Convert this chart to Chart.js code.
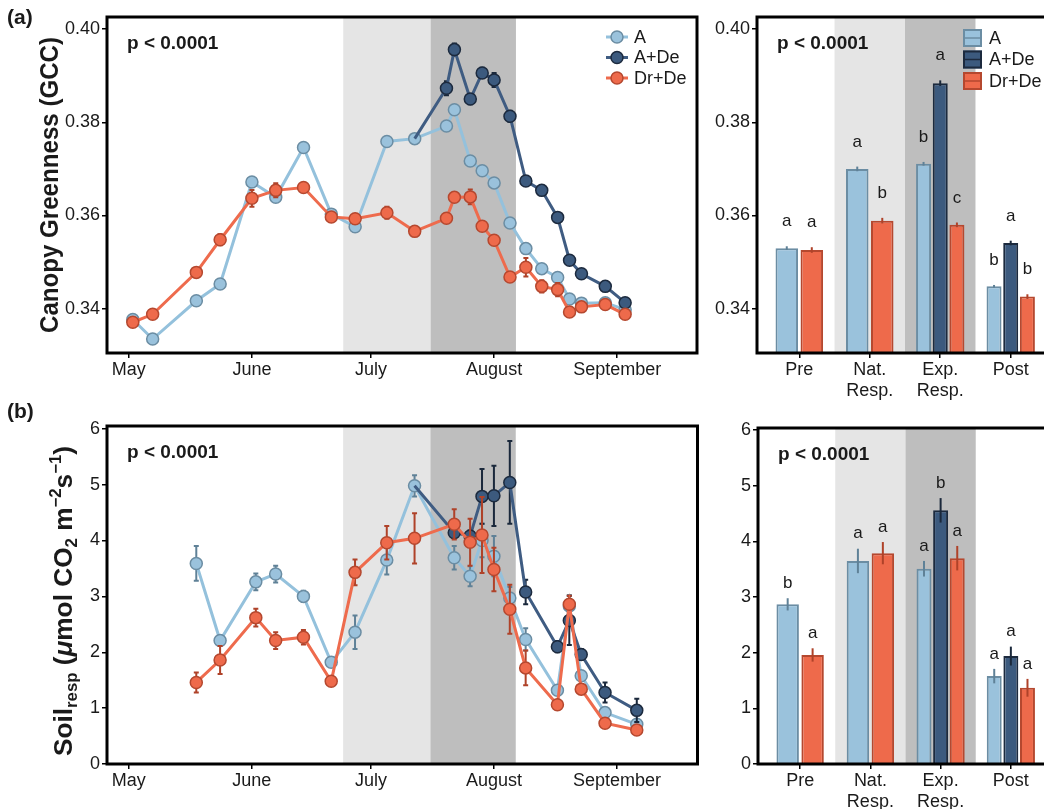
<!DOCTYPE html>
<html>
<head>
<meta charset="utf-8">
<script src="https://cdn.jsdelivr.net/npm/chart.js@4.4.1/dist/chart.umd.min.js"></script>
<style>
  html, body { margin: 0; padding: 0; overflow: hidden; background: #fff; }
  body { width: 1044px; height: 809px; position: relative; }
  canvas { position: absolute; }
</style>
</head>
<body>
<canvas id="gccLine" width="705" height="400" style="left:0;top:0"></canvas>
<canvas id="gccBar" width="349" height="400" style="left:705px;top:0"></canvas>
<canvas id="respLine" width="705" height="409" style="left:0;top:400px"></canvas>
<canvas id="respBar" width="349" height="409" style="left:705px;top:400px"></canvas>
<script>
/* global Chart */

// ---- data ----
// sampling days, counted from 1 May
const gccDays = [1, 6, 17, 23, 31, 37, 44, 51, 57, 65, 72, 80, 82, 86, 89, 92, 96, 100, 104, 108, 111, 114, 120, 125];
const gccA = [0.3377, 0.3335, 0.3417, 0.3453, 0.3672, 0.3639, 0.3746, 0.3603, 0.3576, 0.3759, 0.3765, 0.3792,
  0.3827, 0.3717, 0.3696, 0.3670, 0.3584, 0.3529, 0.3486, 0.3467, 0.3421, 0.3412, 0.3413, 0.3398];
const gccAErr = [0.0003, 0.0003, 0.0003, 0.0003, 0.0008, 0.0006, 0.0006, 0.0004, 0.0007, 0.0006, 0.0004, 0.0005,
  0.0008, 0.0007, 0.0005, 0.0008, 0.0007, 0.0004, 0.0003, 0.0004, 0.0003, 0.0003, 0.0003, 0.0003];
const gccADe = [null, null, null, null, null, null, null, null, null, null, 0.3765, 0.3873,
  0.3956, 0.3850, 0.3906, 0.3891, 0.3813, 0.3674, 0.3654, 0.3596, 0.3504, 0.3475, 0.3448, 0.3413];
const gccADeErr = [null, null, null, null, null, null, null, null, null, null, 0, 0.0015,
  0.0013, 0.0011, 0.0011, 0.0015, 0.0012, 0.0009, 0.0006, 0.0005, 0.0006, 0.0005, 0.0005, 0.0005];
const gccDrDe = [0.3371, 0.3388, 0.3478, 0.3548, 0.3637, 0.3654, 0.3660, 0.3597, 0.3593, 0.3606, 0.3566, 0.3594,
  0.3639, 0.3640, 0.3577, 0.3547, 0.3468, 0.3489, 0.3448, 0.3441, 0.3393, 0.3404, 0.3409, 0.3388];
const gccDrDeErr = [0.0003, 0.0004, 0.0009, 0.0012, 0.0018, 0.0015, 0.0007, 0.0009, 0.0010, 0.0013, 0.0009, 0.0007,
  0.0008, 0.0016, 0.0007, 0.0009, 0.0007, 0.0020, 0.0013, 0.0014, 0.0009, 0.0010, 0.0006, 0.0007];

const respDays = [17, 23, 32, 37, 44, 51, 57, 65, 72, 82, 86, 89, 92, 96, 100, 108, 111, 114, 120, 128];
const respA = [3.59, 2.21, 3.26, 3.40, 3.00, 1.82, 2.36, 3.65, 4.98, 3.69, 3.36, 4.00, 3.72, 2.97, 2.23, 1.32, 2.83, 1.58, 0.92, 0.71];
const respAErr = [0.31, 0.05, 0.15, 0.15, 0.10, 0.05, 0.30, 0.26, 0.19, 0.21, 0.18, 0.30, 0.36, 0.20, 0.20, 0.08, 0.19, 0.08, 0.08, 0.06];
const respADe = [null, null, null, null, null, null, null, null, 4.98, 4.14, 4.08, 4.79, 4.80, 5.04, 3.08, 2.10, 2.57, 1.96, 1.28, 0.96];
const respADeErr = [null, null, null, null, null, null, null, null, 0, 0.10, 0.10, 0.49, 0.54, 0.74, 0.22, 0.10, 0.44, 0.10, 0.18, 0.21];
const respDrDe = [1.46, 1.86, 2.62, 2.21, 2.27, 1.48, 3.43, 3.96, 4.04, 4.29, 3.97, 4.10, 3.48, 2.77, 1.72, 1.06, 2.86, 1.34, 0.73, 0.61];
const respDrDeErr = [0.18, 0.25, 0.16, 0.15, 0.13, 0.05, 0.23, 0.30, 0.45, 0.27, 0.42, 0.68, 0.39, 0.44, 0.31, 0.05, 0.15, 0.08, 0.05, 0.05];

// phase means (Pre, Nat. Resp., Exp. Resp., Post)
const gccBarA = [0.3530, 0.3700, 0.3711, 0.3448];
const gccBarAErr = [0.0004, 0.0005, 0.0004, 0.0003];
const gccBarADe = [null, null, 0.3884, 0.3541];
const gccBarADeErr = [null, null, 0.0006, 0.0005];
const gccBarDrDe = [0.3526, 0.3589, 0.3580, 0.3426];
const gccBarDrDeErr = [0.0006, 0.0006, 0.0005, 0.0005];
const gccLettersA = ['a', 'a', 'b', 'b'];
const gccLettersADe = [null, null, 'a', 'a'];
const gccLettersDrDe = ['a', 'b', 'c', 'b'];

const respBarA = [2.87, 3.65, 3.51, 1.58];
const respBarAErr = [0.11, 0.22, 0.14, 0.13];
const respBarADe = [null, null, 4.56, 1.94];
const respBarADeErr = [null, null, 0.22, 0.17];
const respBarDrDe = [1.96, 3.79, 3.70, 1.37];
const respBarDrDeErr = [0.12, 0.20, 0.22, 0.16];
const respLettersA = ['b', 'a', 'a', 'a'];
const respLettersADe = [null, null, 'b', 'a'];
const respLettersDrDe = ['a', 'a', 'a', 'a'];

const seriesNames = ['A', 'A+De', 'Dr+De'];
const monthDays = [0, 31, 61, 92, 123];
const monthLabels = ['May', 'June', 'July', 'August', 'September'];
const shadeDays = [54, 76, 97.5];          // natural response start, deluge start, deluge end
const phaseLabels = [['Pre'], ['Nat.', 'Resp.'], ['Exp.', 'Resp.'], ['Post']];
const phaseShade = [1.5, 2.5, 3.5];
const gccTicks = [0.34, 0.36, 0.38, 0.40];
const respTicks = [0, 1, 2, 3, 4, 5, 6];
const pLabel = 'p < 0.0001';

// ---- styles ----
const FONT = "'Liberation Sans', Arial, Helvetica, sans-serif";
const INK = '#1a1a1a';
const tickFont = {family: FONT, size: 18};
const colors = [
  {fill: '#9AC2DC', edge: '#6B8DA3', line: '#94C1DC', err: '#5F8197'},
  {fill: '#3C5A7E', edge: '#1C2A3E', line: '#3F5C82', err: '#1A283B'},
  {fill: '#EE6A4B', edge: '#B5482F', line: '#EE6B4D', err: '#AF4229'}
];

function lineSet(k, days, vals, errs) {
  const s = colors[k];
  const first = vals.findIndex(v => v !== null);
  return {
    label: seriesNames[k],
    order: 3 - k,
    data: days.map((d, i) => ({x: d, y: vals[i]})),
    errors: errs,
    errColor: s.err,
    borderColor: s.line,
    borderWidth: 3,
    pointBackgroundColor: s.fill,
    pointBorderColor: s.edge,
    pointBorderWidth: 1.5,
    // the A+De line leaves from the shared A point, whose marker stays light blue
    pointRadius: c => (k === 1 && c.dataIndex === first) ? 0 : 6,
    tension: 0
  };
}

function barSet(k, vals, errs, letters) {
  const s = colors[k];
  return {
    label: seriesNames[k],
    data: vals.map((v, i) => ({x: i + 1, y: v})),
    errors: errs,
    letters: letters,
    errColor: s.err,
    backgroundColor: s.fill,
    borderColor: s.edge,
    borderWidth: 2,
    skipNull: true,
    categoryPercentage: 0.71,
    barPercentage: 0.9
  };
}

function axes(o) {
  return {
    x: {
      type: 'linear', min: o.xMin, max: o.xMax, offset: false,
      afterBuildTicks: s => { s.ticks = o.xTicks.map(v => ({value: v})); },
      afterFit: s => { s.height = o.xHeight; },
      grid: {offset: false, drawOnChartArea: false, tickLength: 5, color: '#000', lineWidth: 1.5},
      border: {display: false},
      ticks: {font: tickFont, color: INK, padding: 1, autoSkip: false, maxRotation: 0, callback: o.xFmt}
    },
    y: {
      type: 'linear', min: o.yMin, max: o.yMax, beginAtZero: false,
      afterBuildTicks: s => { s.ticks = o.yTicks.map(v => ({value: v})); },
      afterFit: s => { s.width = o.yWidth; },
      grid: {drawOnChartArea: false, tickLength: 5, color: '#000', lineWidth: 1.5},
      border: {display: false},
      ticks: {font: tickFont, color: INK, padding: 2, callback: o.yFmt}
    }
  };
}

// rotated axis title built from runs of text (for sub/superscripts)
function drawTitle(ctx, runs, bx, cy, len) {
  ctx.save();
  ctx.translate(bx, cy);
  ctx.rotate(-Math.PI / 2);
  let w = 0;
  runs.forEach(r => { ctx.font = r.f + ' ' + FONT; r.w = ctx.measureText(r.t).width; w += r.w; });
  ctx.scale(len / w, 1);
  ctx.fillStyle = INK;
  ctx.textBaseline = 'alphabetic';
  let x = -w / 2;
  runs.forEach(r => { ctx.font = r.f + ' ' + FONT; ctx.fillText(r.t, x, r.dy || 0); x += r.w; });
  ctx.restore();
}

const gccTitle = [{t: 'Canopy Greenness (GCC)', f: 'bold 25px'}];
const respTitle = [
  {t: 'Soil', f: 'bold 25px'}, {t: 'resp', f: 'bold 16px', dy: 5}, {t: ' (', f: 'bold 25px'},
  {t: 'μ', f: 'italic bold 25px'}, {t: 'mol CO', f: 'bold 25px'}, {t: '2', f: 'bold 16px', dy: 5},
  {t: ' m', f: 'bold 25px'}, {t: '−2', f: 'bold 16px', dy: -11}, {t: 's', f: 'bold 25px'},
  {t: '−1', f: 'bold 16px', dy: -11}, {t: ')', f: 'bold 25px'}
];

function errorBars(chart, args, cfg) {
  const ds = chart.data.datasets[args.index];
  if (!ds.errors) return;
  const y = chart.scales.y, ctx = chart.ctx;
  ctx.save();
  ctx.strokeStyle = ds.errColor;
  ctx.lineWidth = cfg.errWidth;
  args.meta.data.forEach((el, i) => {
    const v = ds.data[i].y, e = ds.errors[i];
    if (v === null || !e) return;
    const t = y.getPixelForValue(v + e), b = y.getPixelForValue(v - e);
    ctx.beginPath();
    ctx.moveTo(el.x, t); ctx.lineTo(el.x, b);
    if (cfg.cap) {
      ctx.moveTo(el.x - cfg.cap, t); ctx.lineTo(el.x + cfg.cap, t);
      ctx.moveTo(el.x - cfg.cap, b); ctx.lineTo(el.x + cfg.cap, b);
    }
    ctx.stroke();
  });
  ctx.restore();
}

function makeDecor(cfg) {
  return {
    id: 'decor',
    beforeDatasetsDraw(chart) {
      // phase shading
      const {ctx, chartArea: a} = chart, x = chart.scales.x;
      const p = cfg.bands.map(v => x.getPixelForValue(v));
      ctx.save();
      ctx.fillStyle = '#E5E5E5';
      ctx.fillRect(p[0], a.top, p[1] - p[0], a.height);
      ctx.fillStyle = '#BEBEBE';
      ctx.fillRect(p[1], a.top, p[2] - p[1], a.height);
      ctx.restore();
    },
    beforeDatasetDraw(chart, args) { if (!cfg.errAfter) errorBars(chart, args, cfg); },
    afterDatasetDraw(chart, args) { if (cfg.errAfter) errorBars(chart, args, cfg); },
    afterDatasetsDraw(chart) {
      const {ctx, chartArea: a} = chart, y = chart.scales.y;
      ctx.save();

      // significance letters
      ctx.fillStyle = INK;
      ctx.font = '17px ' + FONT;
      ctx.textAlign = 'center';
      ctx.textBaseline = 'middle';
      chart.data.datasets.forEach((ds, k) => {
        if (!ds.letters) return;
        chart.getDatasetMeta(k).data.forEach((el, i) => {
          if (!ds.letters[i]) return;
          const v = ds.data[i].y + ds.errors[i] + cfg.letterGap;
          ctx.fillText(ds.letters[i], el.x, y.getPixelForValue(v));
        });
      });

      // p value
      ctx.textAlign = 'left';
      ctx.font = 'bold 19px ' + FONT;
      ctx.fillText(pLabel, a.left + 20, a.top + 27);

      // legends
      ctx.font = '18px ' + FONT;
      if (cfg.legend === 'line') {
        const cx = a.right - 80;
        seriesNames.forEach((n, k) => {
          const cy = a.top + 20 + k * 20.5, s = colors[k];
          ctx.strokeStyle = s.line; ctx.lineWidth = 3;
          ctx.beginPath(); ctx.moveTo(cx - 11, cy); ctx.lineTo(cx + 11, cy); ctx.stroke();
          ctx.beginPath(); ctx.arc(cx, cy, 6, 0, Math.PI * 2);
          ctx.fillStyle = s.fill; ctx.fill();
          ctx.strokeStyle = s.edge; ctx.lineWidth = 1.5; ctx.stroke();
          ctx.fillStyle = INK;
          ctx.fillText(n, cx + 17, cy + 1);
        });
      } else if (cfg.legend === 'bar') {
        const bx = a.left + 206;
        seriesNames.forEach((n, k) => {
          const cy = a.top + 21 + k * 21.5, s = colors[k];
          ctx.fillStyle = s.fill; ctx.fillRect(bx, cy - 9, 19, 18);
          ctx.strokeStyle = s.edge; ctx.lineWidth = 2; ctx.strokeRect(bx + 1, cy - 8, 17, 16);
          ctx.lineWidth = 1.5;
          ctx.beginPath(); ctx.moveTo(bx + 1, cy); ctx.lineTo(bx + 18, cy); ctx.stroke();
          ctx.fillStyle = INK;
          ctx.fillText(n, bx + 26, cy + 1);
        });
      }

      // panel frame
      ctx.strokeStyle = '#000';
      ctx.lineWidth = 3;
      ctx.strokeRect(a.left, a.top, a.right - a.left, a.bottom - a.top);
      ctx.restore();
    },
    afterDraw(chart) {
      if (!cfg.title) return;
      const {ctx, chartArea: a} = chart;
      drawTitle(ctx, cfg.title, cfg.titleX, (a.top + a.bottom) / 2 + cfg.titleShift, cfg.titleLen);
      ctx.save();
      ctx.fillStyle = INK;
      ctx.font = 'bold 21px ' + FONT;
      ctx.textBaseline = 'middle';
      ctx.fillText(cfg.tag, 7, cfg.tagY);
      ctx.restore();
    }
  };
}

const baseOptions = {
  responsive: false,
  animation: false,
  events: []
};
const quiet = {legend: {display: false}, tooltip: {enabled: false}};
const monthFmt = v => monthLabels[monthDays.indexOf(v)];
const phaseFmt = v => phaseLabels[v - 1];

/* (a) canopy greenness over the season */
new Chart(document.getElementById('gccLine'), {
  type: 'line',
  data: {datasets: [lineSet(0, gccDays, gccA, gccAErr), lineSet(1, gccDays, gccADe, gccADeErr), lineSet(2, gccDays, gccDrDe, gccDrDeErr)]},
  options: Object.assign({}, baseOptions, {
    layout: {padding: {top: 17, right: 8, left: 0, bottom: 0}},
    scales: axes({xMin: -5.5, xMax: 143.1, xTicks: monthDays, xFmt: monthFmt, xHeight: 47,
      yMin: 0.3305, yMax: 0.4026, yTicks: gccTicks, yFmt: v => v.toFixed(2), yWidth: 107}),
    plugins: quiet
  }),
  plugins: [makeDecor({bands: shadeDays, errWidth: 2, cap: 2.5, legend: 'line',
    title: gccTitle, titleX: 58, titleShift: 0, titleLen: 296, tag: '(a)', tagY: 18})]
});

/* (a) phase means */
new Chart(document.getElementById('gccBar'), {
  type: 'bar',
  data: {datasets: [barSet(0, gccBarA, gccBarAErr, gccLettersA), barSet(1, gccBarADe, gccBarADeErr, gccLettersADe), barSet(2, gccBarDrDe, gccBarDrDeErr, gccLettersDrDe)]},
  options: Object.assign({}, baseOptions, {
    layout: {padding: {top: 17, right: 1, left: 0, bottom: 0}},
    scales: axes({xMin: 0.4, xMax: 4.6, xTicks: [1, 2, 3, 4], xFmt: phaseFmt, xHeight: 47,
      yMin: 0.3305, yMax: 0.4026, yTicks: gccTicks, yFmt: v => v.toFixed(2), yWidth: 52}),
    plugins: quiet
  }),
  plugins: [makeDecor({bands: phaseShade, errWidth: 2, cap: 0, errAfter: true, letterGap: 0.0053, legend: 'bar'})]
});

/* (b) soil respiration over the season */
new Chart(document.getElementById('respLine'), {
  type: 'line',
  data: {datasets: [lineSet(0, respDays, respA, respAErr), lineSet(1, respDays, respADe, respADeErr), lineSet(2, respDays, respDrDe, respDrDeErr)]},
  options: Object.assign({}, baseOptions, {
    layout: {padding: {top: 26, right: 7, left: 0, bottom: 0}},
    scales: axes({xMin: -5.5, xMax: 143.3, xTicks: monthDays, xFmt: monthFmt, xHeight: 45,
      yMin: 0, yMax: 6.05, yTicks: respTicks, yFmt: v => String(v), yWidth: 107}),
    plugins: quiet
  }),
  plugins: [makeDecor({bands: shadeDays, errWidth: 2, cap: 2.5,
    title: respTitle, titleX: 72, titleShift: 6, titleLen: 310, tag: '(b)', tagY: 12})]
});

/* (b) phase means */
new Chart(document.getElementById('respBar'), {
  type: 'bar',
  data: {datasets: [barSet(0, respBarA, respBarAErr, respLettersA), barSet(1, respBarADe, respBarADeErr, respLettersADe), barSet(2, respBarDrDe, respBarDrDeErr, respLettersDrDe)]},
  options: Object.assign({}, baseOptions, {
    layout: {padding: {top: 28, right: 1, left: 0, bottom: 0}},
    scales: axes({xMin: 0.4, xMax: 4.6, xTicks: [1, 2, 3, 4], xFmt: phaseFmt, xHeight: 45,
      yMin: 0, yMax: 6.04, yTicks: respTicks, yFmt: v => String(v), yWidth: 53}),
    plugins: quiet
  }),
  plugins: [makeDecor({bands: phaseShade, errWidth: 2, cap: 0, errAfter: true, letterGap: 0.27})]
});
</script>
</body>
</html>
